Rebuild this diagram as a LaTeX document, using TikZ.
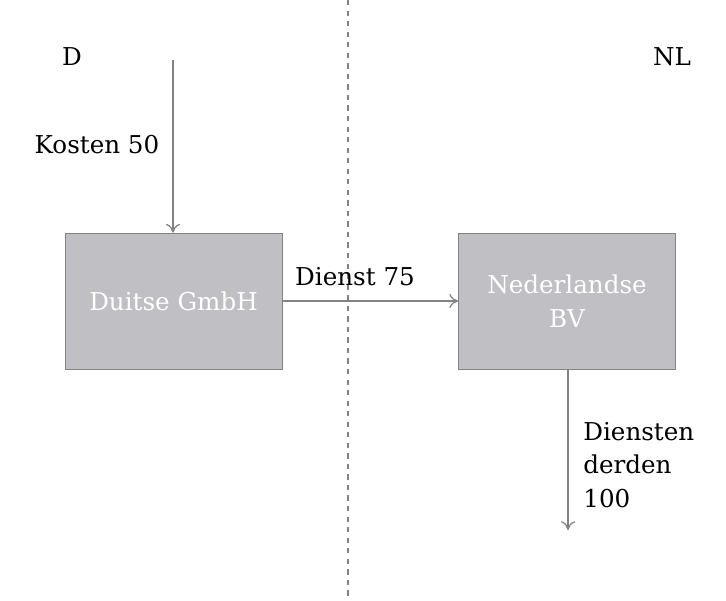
\documentclass[tikz,border=0pt]{standalone}
\usepackage{fontspec}
\setmainfont{DejaVu Serif}
\usetikzlibrary{positioning,arrows.meta}
\tikzset{>={To[length=5pt,width=8pt]}}
\definecolor{boxgray}{RGB}{192,191,196}
\definecolor{edgegray}{RGB}{130,130,130}
\tikzset{
  entity/.style={draw=edgegray, fill=boxgray, text=white, minimum width=4.34cm,
    minimum height=2.72cm, align=center, font=\fontsize{14}{19}\selectfont},
  flow/.style={->, draw=edgegray, line width=0.7pt},
  lbl/.style={font=\fontsize{14}{19}\selectfont, inner sep=0pt}
}
\begin{document}
\begin{tikzpicture}[x=0.02cm, y=-0.02cm]
\useasboundingbox (0,0) rectangle (726,600);
% border
\draw[dash pattern=on 3pt off 3pt, edgegray, line width=0.8pt] (348,0) -- (348,600);
% countries
\node[lbl] (d) at (72,57) {D};
\node[lbl] (nl) at (672,57) {NL};
% entities
\node[entity] (gmbh) at (173.5,301) {Duitse GmbH};
\node[entity] (bv) at (567,301) {Nederlandse\\BV};
% flows
\coordinate (costin) at (173,60);
\coordinate (servout) at (568,530);
\draw[flow] (costin) -- (gmbh.north -| costin);
\node[lbl] (kosten) at (97,145) {Kosten 50};
\draw[flow] (gmbh.east) -- (bv.west);
\node[lbl] (dienst) at (355,277) {Dienst 75};
\draw[flow] (bv.south -| servout) -- (servout);
\node[lbl, align=left, anchor=north west] (derden) at (583,422) {Diensten\\derden\\100};
\end{tikzpicture}
\end{document}
